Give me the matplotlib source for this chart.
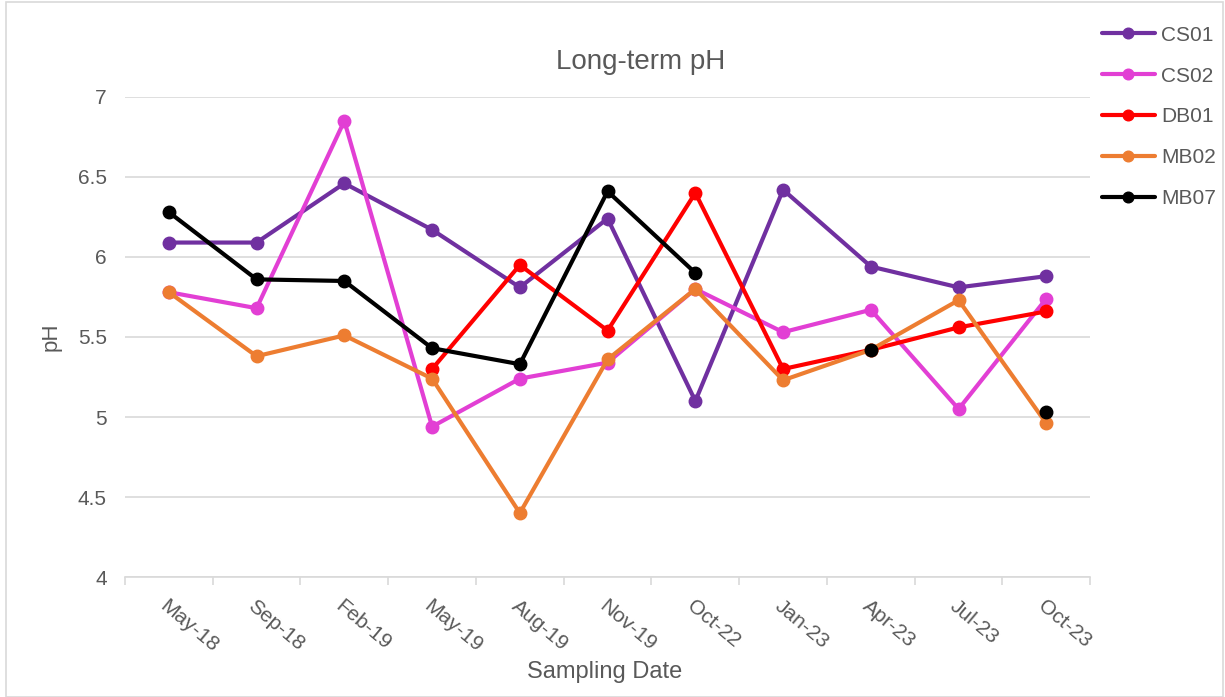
import matplotlib
matplotlib.use("Agg")
import matplotlib.pyplot as plt
import numpy as np
from matplotlib.patches import Rectangle

plt.rcParams['font.family'] = ['Liberation Sans', 'DejaVu Sans']

dates = ["May-18", "Sep-18", "Feb-19", "May-19", "Aug-19", "Nov-19",
         "Oct-22", "Jan-23", "Apr-23", "Jul-23", "Oct-23"]
nan = np.nan
cs01 = [6.09, 6.09, 6.46, 6.17, 5.81, 6.24, 5.10, 6.42, 5.94, 5.81, 5.88]
cs02 = [5.78, 5.68, 6.85, 4.94, 5.24, 5.34, 5.80, 5.53, 5.67, 5.05, 5.74]
db01 = [nan, nan, nan, 5.30, 5.95, 5.54, 6.40, 5.30, 5.42, 5.56, 5.66]
mb02 = [5.78, 5.38, 5.51, 5.24, 4.40, 5.36, 5.80, 5.23, 5.42, 5.73, 4.96]
mb07 = [6.28, 5.86, 5.85, 5.43, 5.33, 6.41, 5.90, nan, 5.42, nan, 5.03]

series = [("CS01", cs01, "#7030A0"),
          ("CS02", cs02, "#E23FD4"),
          ("DB01", db01, "#FF0000"),
          ("MB02", mb02, "#ED7D31"),
          ("MB07", mb07, "#000000")]

text_color = "#595959"
fig = plt.figure(figsize=(12.25, 6.97), dpi=100)
ax = fig.add_axes([0.102, 0.172, 0.788, 0.689])

x = np.arange(len(dates))
for name, vals, col in series:
    ax.plot(x, vals, color=col, lw=3.0, marker='o', markersize=9, label=name,
            solid_capstyle='round', zorder=3)

ax.set_xlim(-0.5, len(dates) - 0.5)
ax.set_ylim(4, 7)
ax.set_yticks([4, 4.5, 5, 5.5, 6, 6.5, 7])
ax.set_yticklabels(["4", "4.5", "5", "5.5", "6", "6.5", "7"])
ax.set_xticks(x)
ax.set_xticklabels(dates, rotation=-40, ha='left', rotation_mode='anchor')
ax.set_xticks(np.arange(-0.5, len(dates), 1.0), minor=True)
ax.tick_params(axis='x', which='major', length=0, pad=14, labelsize=15, colors=text_color)
ax.tick_params(axis='x', which='minor', length=6, color='#d9d9d9', width=1.2, direction='out')
ax.tick_params(axis='y', which='major', length=0, pad=13, labelsize=15, colors=text_color)

ax.grid(axis='y', color='#d9d9d9', lw=1.2, zorder=0)
for s in ['top', 'right', 'left']:
    ax.spines[s].set_visible(False)
ax.spines['bottom'].set_color('#d9d9d9')
ax.spines['bottom'].set_linewidth(1.2)

ax.set_title("Long-term pH", fontsize=20, color=text_color, pad=20, x=0.534)
ax.set_ylabel("pH", fontsize=16, color=text_color)
ax.set_xlabel("Sampling Date", fontsize=17, color=text_color)
ax.yaxis.set_label_coords(-0.066, 0.5)
ax.xaxis.set_label_coords(0.497, -0.175)

leg = fig.legend(loc='upper left', bbox_to_anchor=(0.884, 0.99), frameon=False,
                 fontsize=15, labelspacing=1.05, handlelength=2.55, handletextpad=0.3,
                 labelcolor=text_color, markerscale=0.85)

fig.patches.append(Rectangle((0.005, 0.0), 0.993, 0.997, transform=fig.transFigure,
                             fill=False, edgecolor='#d9d9d9', lw=1.2))

fig.savefig("out.png", dpi=100)
